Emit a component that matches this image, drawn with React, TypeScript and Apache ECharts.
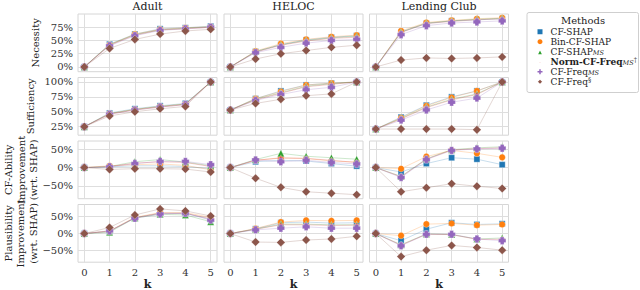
import React, { useEffect, useRef } from "react";
import * as echarts from "echarts";

const FONT = "DejaVu Serif";

const ks = [0, 1, 2, 3, 4, 5];
const datasetTitles = ["Adult", "HELOC", "Lending Club"];
const metricLabels = [
  "Necessity",
  "Sufficiency",
  "CF-Ability\nImprovement\n(wrt. SHAP)",
  "Plausibility\nImprovement\n(wrt. SHAP)",
];
const methods = ["CF-SHAP", "Bin-CF-SHAP", "CF-SHAP_MS", "Norm-CF-Freq_MS", "CF-Freq_MS", "CF-Freq"];
const colors = ["#1f77b4", "#ff7f0e", "#2ca02c", "#d62728", "#9467bd", "#8c564b"];

// tick values per metric row
const yTicksNecessity = [0, 25, 50, 75];
const yTicksSufficiency = [25, 50, 75, 100];
const yTicksCfAbility = [-50, 0, 50];
const yTicksPlausibility = [-50, 0, 50];

// values (%), one row per method in the order of `methods`, one column per k
const necessityAdult = [
  [0, 43, 62, 72, 74, 77],
  [0, 42, 62, 71, 74, 76],
  [0, 42, 61, 70, 73, 76],
  [0, 41, 60, 70, 72, 75],
  [0, 40, 59, 69, 72, 75],
  [0, 35, 52, 62, 68, 71],
];
const necessityHeloc = [
  [0, 29, 42, 51, 56, 59],
  [0, 30, 44, 52, 57, 60],
  [0, 29, 42, 50, 55, 58],
  [0, 28, 41, 49, 54, 56],
  [0, 27, 37, 45, 50, 52],
  [0, 15, 25, 31, 37, 41],
];
const necessityLending = [
  [0, 66, 82, 87, 89, 91],
  [0, 68, 84, 88, 91, 93],
  [0, 66, 83, 87, 90, 92],
  [0, 65, 82, 86, 89, 91],
  [0, 61, 78, 83, 85, 87],
  [0, 13, 17, 16, 17, 19],
];
const sufficiencyAdult = [
  [25, 48, 55, 60, 64, 100],
  [25, 47, 54, 59, 63, 100],
  [25, 47, 54, 59, 63, 100],
  [25, 46, 53, 58, 62, 100],
  [25, 46, 53, 58, 62, 100],
  [25, 43, 50, 55, 59, 100],
];
const sufficiencyHeloc = [
  [53, 72, 85, 95, 98, 100],
  [53, 72, 84, 95, 98, 100],
  [53, 71, 82, 93, 97, 100],
  [53, 70, 81, 92, 96, 100],
  [53, 69, 79, 87, 91, 100],
  [53, 64, 71, 77, 80, 100],
];
const sufficiencyLending = [
  [21, 41, 61, 75, 85, 100],
  [21, 40, 60, 74, 85, 100],
  [21, 39, 58, 71, 80, 100],
  [21, 38, 57, 70, 79, 100],
  [21, 36, 53, 66, 73, 100],
  [21, 21, 21, 21, 20, 100],
];
const cfAbilityAdult = [
  [0, 2, 5, 5, 3, -3],
  [0, 5, 8, 10, 6, -6],
  [0, 3, 16, 22, 15, 5],
  [0, 3, 12, 16, 14, 3],
  [0, 2, 11, 17, 17, 8],
  [0, -5, -3, -3, -4, -12],
];
const cfAbilityHeloc = [
  [0, 16, 20, 18, 11, 4],
  [0, 20, 27, 25, 18, 15],
  [0, 22, 39, 31, 27, 23],
  [0, 20, 26, 25, 20, 14],
  [0, 21, 16, 20, 14, 10],
  [0, -29, -54, -66, -70, -74],
];
const cfAbilityLending = [
  [0, -12, 11, 27, 23, 8],
  [0, -3, 30, 47, 39, 28],
  [0, -24, 24, 49, 54, 57],
  [0, -25, 23, 48, 52, 54],
  [0, -27, 22, 47, 51, 53],
  [0, -66, -55, -44, -51, -57],
];
const plausibilityAdult = [
  [0, 7, 47, 60, 60, 42],
  [0, 8, 48, 62, 62, 48],
  [0, 4, 46, 57, 55, 35],
  [0, 7, 47, 60, 60, 44],
  [0, 8, 45, 58, 60, 40],
  [0, 18, 55, 73, 67, 52],
];
const plausibilityHeloc = [
  [0, 14, 32, 34, 31, 32],
  [0, 15, 34, 39, 38, 39],
  [0, 13, 28, 28, 26, 26],
  [0, 13, 26, 26, 24, 25],
  [0, 11, 16, 20, 16, 16],
  [0, -25, -26, -19, -16, -8],
];
const plausibilityLending = [
  [0, -21, 13, 32, 27, 29],
  [0, -6, 28, 30, 25, 27],
  [0, -33, -1, -3, -16, -13],
  [0, -34, -2, -3, -17, -17],
  [0, -36, -2, -2, -16, -21],
  [0, -68, -49, -35, -41, -49],
];

const panelRows = [
  [necessityAdult, necessityHeloc, necessityLending],
  [sufficiencyAdult, sufficiencyHeloc, sufficiencyLending],
  [cfAbilityAdult, cfAbilityHeloc, cfAbilityLending],
  [plausibilityAdult, plausibilityHeloc, plausibilityLending],
];
const rowTicks = [yTicksNecessity, yTicksSufficiency, yTicksCfAbility, yTicksPlausibility];
const rowRanges = [
  [-9, 100],
  [10.7, 107.5],
  [-85, 72.7],
  [-84.6, 86],
];

// layout
const colLeft = [78, 224, 369.5];
const colWidth = 139;
const rowTop = [14, 77.5, 141, 204.5];
const rowHeight = 57.7;

const STAR =
  "path://M0,-10L2.25,-3.09L9.51,-3.09L3.63,1.18L5.88,8.09L0,3.82L-5.88,8.09L-3.63,1.18L-9.51,-3.09L-2.25,-3.09Z";
const PLUS = "path://M-5,-10L5,-10L5,-5L10,-5L10,5L5,5L5,10L-5,10L-5,5L-10,5L-10,-5L-5,-5Z";
const symbols = ["rect", "circle", "triangle", STAR, PLUS, "diamond"];
const symbolSizes = [6, 6.5, 7, 6.5, 7.5, 8.5];

const legendText: Record<string, string> = {
  "CF-SHAP": "{pad| }{t|CF-SHAP}",
  "Bin-CF-SHAP": "{pad| }{t|Bin-CF-SHAP}",
  "CF-SHAP_MS": "{pad| }{t|CF-SHAP}{sub|MS}",
  "Norm-CF-Freq_MS": "{pad| }{b|Norm-CF-Freq}{sub|MS}{sup|†}",
  "CF-Freq_MS": "{pad| }{t|CF-Freq}{sub|MS}",
  "CF-Freq": "{pad| }{t|CF-Freq}{sup|§}",
};

const fmtPct = (v: number) => `${v < 0 ? "\u2212" : ""}${Math.abs(v)}%`;

export default function App() {
  const ref = useRef<HTMLDivElement>(null);
  useEffect(() => {
    if (!ref.current) return;
    const chart = echarts.init(ref.current, undefined, { renderer: "svg" });
    const grids: any[] = [];
    const xAxes: any[] = [];
    const yAxes: any[] = [];
    const series: any[] = [];
    let idx = 0;
    for (let r = 0; r < 4; r++) {
      for (let c = 0; c < 3; c++) {
        grids.push({
          left: colLeft[c],
          top: rowTop[r],
          width: colWidth,
          height: rowHeight,
          show: true,
          borderColor: "#d6d6d6",
          borderWidth: 1,
          backgroundColor: "transparent",
        });
        xAxes.push({
          type: "value",
          gridIndex: idx,
          min: -0.25,
          max: 5.25,
          axisLine: { show: false },
          axisTick: { show: false, customValues: ks },
          axisLabel: {
            show: r === 3,
            customValues: ks,
            margin: 5,
            fontSize: 10,
            fontFamily: FONT,
            color: "#333",
          },
          splitLine: { show: true, lineStyle: { color: "#dedede", width: 1 } },
        });
        yAxes.push({
          type: "value",
          gridIndex: idx,
          min: rowRanges[r][0],
          max: rowRanges[r][1],
          axisLine: { show: false },
          axisTick: { show: false, customValues: rowTicks[r] },
          axisLabel: {
            show: c === 0,
            customValues: rowTicks[r],
            formatter: (v: number) => fmtPct(v),
            margin: 5,
            fontSize: 10,
            fontFamily: FONT,
            color: "#333",
          },
          splitLine: { show: true, lineStyle: { color: "#dedede", width: 1 } },
        });
        const panel = panelRows[r][c];
        methods.forEach((m, mi) => {
          series.push({
            name: m,
            type: "line",
            xAxisIndex: idx,
            yAxisIndex: idx,
            data: ks.map((k, i) => [k, panel[mi][i]]),
            symbol: symbols[mi],
            symbolSize: symbolSizes[mi],
            showAllSymbol: true,
            silent: true,
            itemStyle: { color: colors[mi], borderColor: "#fff", borderWidth: 0.3 },
            lineStyle: { color: colors[mi], width: 0.8, opacity: 0.3 },
            emphasis: { disabled: true },
            z: 2 + mi,
          });
        });
        idx++;
      }
    }

    const graphic: any[] = [];
    datasetTitles.forEach((t, c) => {
      graphic.push({
        type: "text",
        x: colLeft[c] + colWidth / 2,
        y: 6.5,
        style: {
          text: t,
          font: `11px "${FONT}"`,
          fill: "#222",
          textAlign: "center",
          textVerticalAlign: "middle",
        },
      });
      graphic.push({
        type: "text",
        x: colLeft[c] + colWidth / 2,
        y: 284,
        style: {
          text: "k",
          font: `bold 11px "${FONT}"`,
          fill: "#222",
          textAlign: "center",
          textVerticalAlign: "middle",
        },
      });
    });
    const labelX = [35.5, 30.5, 21, 20.5];
    metricLabels.forEach((t, r) => {
      graphic.push({
        type: "text",
        x: labelX[r],
        y: rowTop[r] + rowHeight / 2,
        rotation: Math.PI / 2,
        style: {
          text: t,
          font: `10px "${FONT}"`,
          fill: "#222",
          textAlign: "center",
          textVerticalAlign: "middle",
          lineHeight: 12.5,
        },
      });
    });
    // legend frame and title
    graphic.push({
      type: "rect",
      shape: { x: 527, y: 12.5, width: 111.5, height: 80, r: 2 },
      style: { fill: "#fff", stroke: "#cfcfcf", lineWidth: 1 },
      z: -1,
    });
    graphic.push({
      type: "text",
      x: 583,
      y: 20.5,
      style: {
        text: "Methods",
        font: `10px "${FONT}"`,
        fill: "#222",
        textAlign: "center",
        textVerticalAlign: "middle",
      },
    });

    chart.setOption({
      animation: false,
      backgroundColor: "#fff",
      grid: grids,
      xAxis: xAxes,
      yAxis: yAxes,
      series,
      graphic,
      legend: {
        orient: "vertical",
        left: 535.5,
        top: 26.7,
        padding: 0,
        itemGap: 0,
        itemWidth: 7,
        itemHeight: 7,
        selectedMode: false,
        data: methods.map((m, i) => ({ name: m, icon: symbols[i] })),
        formatter: (name: string) => legendText[name],
        textStyle: {
          fontFamily: FONT,
          fontSize: 9,
          color: "#222",
          lineHeight: 10,
          rich: {
            pad: { width: 2, fontSize: 9, lineHeight: 10 },
            t: { fontFamily: FONT, fontSize: 9, lineHeight: 10, color: "#222" },
            b: { fontFamily: FONT, fontSize: 9, lineHeight: 10, fontWeight: "bold", color: "#222" },
            sub: {
              fontFamily: FONT,
              fontSize: 6.5,
              fontStyle: "italic",
              lineHeight: 6,
              verticalAlign: "bottom",
              color: "#222",
            },
            sup: {
              fontFamily: FONT,
              fontSize: 6.5,
              lineHeight: 6,
              verticalAlign: "top",
              color: "#222",
            },
          },
        },
      },
    });
    return () => chart.dispose();
  }, []);
  return (
    <div
      ref={ref}
      style={{ position: "fixed", left: 0, top: 0, width: 640, height: 290 }}
    />
  );
}
